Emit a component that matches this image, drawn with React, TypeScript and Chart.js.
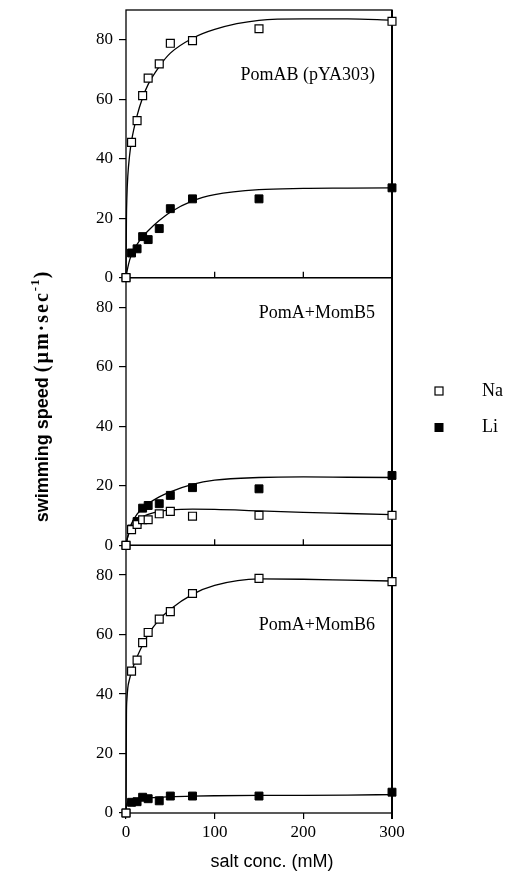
import React, { useEffect, useRef } from 'react';
import { Chart, registerables } from 'chart.js';

Chart.register(...registerables);

// ---------- data ----------
const concentrations = [0, 6.25, 12.5, 18.75, 25, 37.5, 50, 75, 150, 300];

const pomAB_Na = [0, 45.5, 52.8, 61.2, 67.1, 71.9, 78.8, 79.7, 83.7, 86.2];
const pomAB_Li = [0, 8.3, 9.7, 13.8, 12.8, 16.5, 23.2, 26.5, 26.5, 30.2];
const momB5_Na = [0, 5.3, 7.0, 8.6, 8.6, 10.6, 11.4, 9.8, 10.1, 10.1];
const momB5_Li = [0, 5.5, 8.0, 12.5, 13.4, 14.0, 16.8, 19.4, 19.0, 23.5];
const momB6_Na = [0, 47.7, 51.4, 57.3, 60.7, 65.2, 67.7, 73.8, 78.9, 77.8];
const momB6_Li = [0, 3.6, 3.8, 5.3, 4.8, 4.1, 5.7, 5.7, 5.7, 7.0];

// fitted curves at these concentrations
const curveX = [0, 0.5, 1, 2, 4, 6.25, 12.5, 18.75, 25, 37.5, 50, 75, 100, 150, 200, 250, 300];
const pomAB_NaFit = [0, 20, 27, 34, 41, 46, 54.5, 60.5, 65, 71, 75.5, 80.5, 83.5, 86.5, 87, 87, 86.6];
const pomAB_LiFit = [0, 1, 1.8, 3.4, 5.8, 7.8, 11.2, 13.8, 15.8, 19.2, 22, 25.8, 27.9, 29.6, 30, 30.1, 30.2];
const momB5_NaFit = [0, 0.9, 1.6, 2.9, 4.5, 5.7, 8, 9.5, 10.4, 11.4, 11.9, 12.2, 12.1, 11.6, 11.1, 10.7, 10.3];
const momB5_LiFit = [0, 0.8, 1.5, 3, 5.3, 7.3, 10.5, 12.5, 14, 16.3, 18, 20.5, 21.9, 22.8, 23, 22.9, 22.8];
const momB6_NaFit = [0, 33, 38, 42, 45, 47.5, 52.5, 56.5, 60, 65, 68.5, 73.5, 76.5, 78.7, 78.6, 78.3, 78];
const momB6_LiFit = [0, 2.5, 3.2, 3.8, 4.3, 4.5, 4.8, 5, 5.1, 5.3, 5.5, 5.7, 5.8, 5.9, 5.9, 6, 6.2];

const yTickValues = [0, 20, 40, 60, 80];
const xTickValues = [0, 100, 200, 300];
const panelTitles = ['PomAB (pYA303)', 'PomA+MomB5', 'PomA+MomB6'];
const legendLabels = ['Na', 'Li'];
const xAxisTitle = 'salt conc. (mM)';
const yAxisTitleMain = 'swimming speed ';
const yAxisTitleUnit = '(µm·sec';
const yAxisTitleSup = '-1';
const yAxisTitleEnd = ')';

// ---------- helpers ----------
const SERIF = '"Liberation Serif", "Times New Roman", serif';
const SANS = '"Liberation Sans", Arial, sans-serif';

const toPts = (xs: number[], ys: number[]) => xs.map((x, i) => ({ x, y: ys[i] }));

const panelIds = ['yA', 'yB', 'yC'];
const panelData = [
  { na: pomAB_Na, li: pomAB_Li, naFit: pomAB_NaFit, liFit: pomAB_LiFit },
  { na: momB5_Na, li: momB5_Li, naFit: momB5_NaFit, liFit: momB5_LiFit },
  { na: momB6_Na, li: momB6_Li, naFit: momB6_NaFit, liFit: momB6_LiFit },
];
const titleValues = [68, 78, 63];

function buildDatasets() {
  const ds: any[] = [];
  panelData.forEach((p, i) => {
    const yAxisID = panelIds[i];
    ds.push({
      label: 'Na',
      data: toPts(concentrations, p.na),
      yAxisID,
      pointStyle: 'rect',
      pointRadius: 5.6,
      pointBackgroundColor: '#ffffff',
      pointBorderColor: '#000000',
      pointBorderWidth: 1.2,
      showLine: false,
      order: 0,
      clip: false,
    });
    ds.push({
      label: 'Li',
      data: toPts(concentrations, p.li),
      yAxisID,
      pointStyle: 'rect',
      pointRadius: 5.6,
      pointBackgroundColor: '#000000',
      pointBorderColor: '#000000',
      pointBorderWidth: 1,
      showLine: false,
      order: 1,
      clip: false,
    });
    ds.push({
      label: 'Na fit',
      data: toPts(curveX, p.naFit),
      yAxisID,
      showLine: true,
      pointRadius: 0,
      borderColor: '#000000',
      borderWidth: 1.3,
      cubicInterpolationMode: 'monotone',
      fill: false,
      order: 2,
      clip: false,
    });
    ds.push({
      label: 'Li fit',
      data: toPts(curveX, p.liFit),
      yAxisID,
      showLine: true,
      pointRadius: 0,
      borderColor: '#000000',
      borderWidth: 1.3,
      cubicInterpolationMode: 'monotone',
      fill: false,
      order: 2,
      clip: false,
    });
  });
  return ds;
}

function yScale() {
  return {
    type: 'linear',
    position: 'left',
    stack: 'panels',
    stackWeight: 1,
    min: 0,
    max: 90,
    afterBuildTicks: (s: any) => {
      s.ticks = yTickValues.map((v) => ({ value: v }));
    },
    afterFit: (s: any) => {
      s.width = 126;
      s.paddingTop = 0;
      s.paddingBottom = 0;
    },
    grid: {
      display: true,
      drawOnChartArea: false,
      drawTicks: true,
      tickLength: 7,
      color: '#000000',
      lineWidth: 1.2,
    },
    border: { display: false },
    ticks: {
      color: '#000000',
      font: { family: SERIF, size: 17 },
      padding: 6,
      includeBounds: false,
    },
  };
}

const framePlugin = {
  id: 'frames',
  beforeDraw(chart: any) {
    const ctx = chart.ctx;
    ctx.save();
    ctx.fillStyle = '#ffffff';
    ctx.fillRect(0, 0, chart.width, chart.height);
    ctx.restore();
  },
  beforeDatasetsDraw(chart: any) {
    const ctx = chart.ctx;
    const { left, right } = chart.chartArea;
    const x = chart.scales.x;
    ctx.save();
    ctx.strokeStyle = '#000000';
    ctx.lineWidth = 1.3;
    panelIds.forEach((id, i) => {
      const s = chart.scales[id];
      ctx.strokeRect(left, s.top, right - left, s.bottom - s.top);
      if (i < 2) {
        xTickValues.forEach((v) => {
          const px = x.getPixelForValue(v);
          if (px <= left + 1 || px >= right - 1) return;
          ctx.beginPath();
          ctx.moveTo(px, s.bottom);
          ctx.lineTo(px, s.bottom - 6);
          ctx.stroke();
        });
      }
    });
    ctx.lineWidth = 2;
    ctx.beginPath();
    ctx.moveTo(right, chart.scales.yA.top);
    ctx.lineTo(right, chart.scales.yC.bottom + 6);
    ctx.stroke();
    ctx.restore();
  },
  afterDraw(chart: any) {
    const ctx = chart.ctx;
    const { right } = chart.chartArea;
    ctx.save();
    ctx.fillStyle = '#000000';

    ctx.font = `18px ${SERIF}`;
    ctx.textAlign = 'right';
    ctx.textBaseline = 'middle';
    panelIds.forEach((id, i) => {
      const s = chart.scales[id];
      ctx.fillText(panelTitles[i], right - 17, s.getPixelForValue(titleValues[i]));
    });

    const lx = 439;
    const lys = [391, 427.5];
    lys.forEach((ly, i) => {
      ctx.lineWidth = 1.2;
      ctx.strokeStyle = '#000000';
      if (i === 0) {
        ctx.fillStyle = '#ffffff';
        ctx.fillRect(lx - 4, ly - 4, 8, 8);
        ctx.strokeRect(lx - 4, ly - 4, 8, 8);
      } else {
        ctx.fillStyle = '#000000';
        ctx.fillRect(lx - 4.5, ly - 4.5, 9, 9);
      }
      ctx.fillStyle = '#000000';
      ctx.font = `18px ${SERIF}`;
      ctx.textAlign = 'left';
      ctx.textBaseline = 'middle';
      ctx.fillText(legendLabels[i], 482, ly);
    });

    ctx.font = `18px ${SANS}`;
    ctx.textAlign = 'center';
    ctx.textBaseline = 'middle';
    ctx.fillText(xAxisTitle, 272, 862);

    const segs = [
      { t: yAxisTitleMain, f: `bold 18px ${SANS}`, dy: 0, ls: 0 },
      { t: yAxisTitleUnit, f: `bold 20px ${SERIF}`, dy: 0, ls: 2 },
      { t: yAxisTitleSup, f: `bold 13px ${SERIF}`, dy: -9, ls: 1 },
      { t: yAxisTitleEnd, f: `bold 20px ${SERIF}`, dy: 0, ls: 0 },
    ];
    let total = 0;
    const widths = segs.map((sg) => {
      ctx.font = sg.f;
      const w = ctx.measureText(sg.t).width + sg.ls * sg.t.length;
      total += w;
      return w;
    });
    ctx.translate(48, 397);
    ctx.rotate(-Math.PI / 2);
    ctx.textAlign = 'left';
    ctx.textBaseline = 'alphabetic';
    let cx = -total / 2;
    segs.forEach((sg, i) => {
      ctx.font = sg.f;
      let px = cx;
      for (const ch of sg.t) {
        ctx.fillText(ch, px, sg.dy);
        px += ctx.measureText(ch).width + sg.ls;
      }
      cx += widths[i];
    });
    ctx.restore();
  },
};

export default function App() {
  const ref = useRef<HTMLCanvasElement | null>(null);

  useEffect(() => {
    if (!ref.current) return;
    const chart = new Chart(ref.current, {
      type: 'scatter',
      data: { datasets: buildDatasets() },
      options: {
        responsive: false,
        animation: false,
        devicePixelRatio: 1,
        layout: { padding: { left: 0, right: 114, top: 10, bottom: 0 } },
        plugins: {
          legend: { display: false },
          tooltip: { enabled: false },
        },
        scales: {
          x: {
            type: 'linear',
            position: 'bottom',
            min: 0,
            max: 300,
            afterBuildTicks: (s: any) => {
              s.ticks = xTickValues.map((v) => ({ value: v }));
            },
            afterFit: (s: any) => {
              s.height = 63;
              s.paddingLeft = 0;
              s.paddingRight = 0;
            },
            grid: {
              display: true,
              drawOnChartArea: false,
              drawTicks: true,
              tickLength: 6,
              color: '#000000',
              lineWidth: 1.2,
            },
            border: { display: false },
            ticks: {
              color: '#000000',
              font: { family: SERIF, size: 17 },
              padding: 3,
              maxRotation: 0,
              autoSkip: false,
            },
          },
          yC: yScale(),
          yB: yScale(),
          yA: yScale(),
        } as any,
      },
      plugins: [framePlugin],
    } as any);
    return () => chart.destroy();
  }, []);

  return (
    <div style={{ position: 'fixed', left: 0, top: 0, width: 506, height: 876, background: '#fff' }}>
      <canvas ref={ref} width={506} height={876} style={{ display: 'block', width: 506, height: 876 }} />
    </div>
  );
}
